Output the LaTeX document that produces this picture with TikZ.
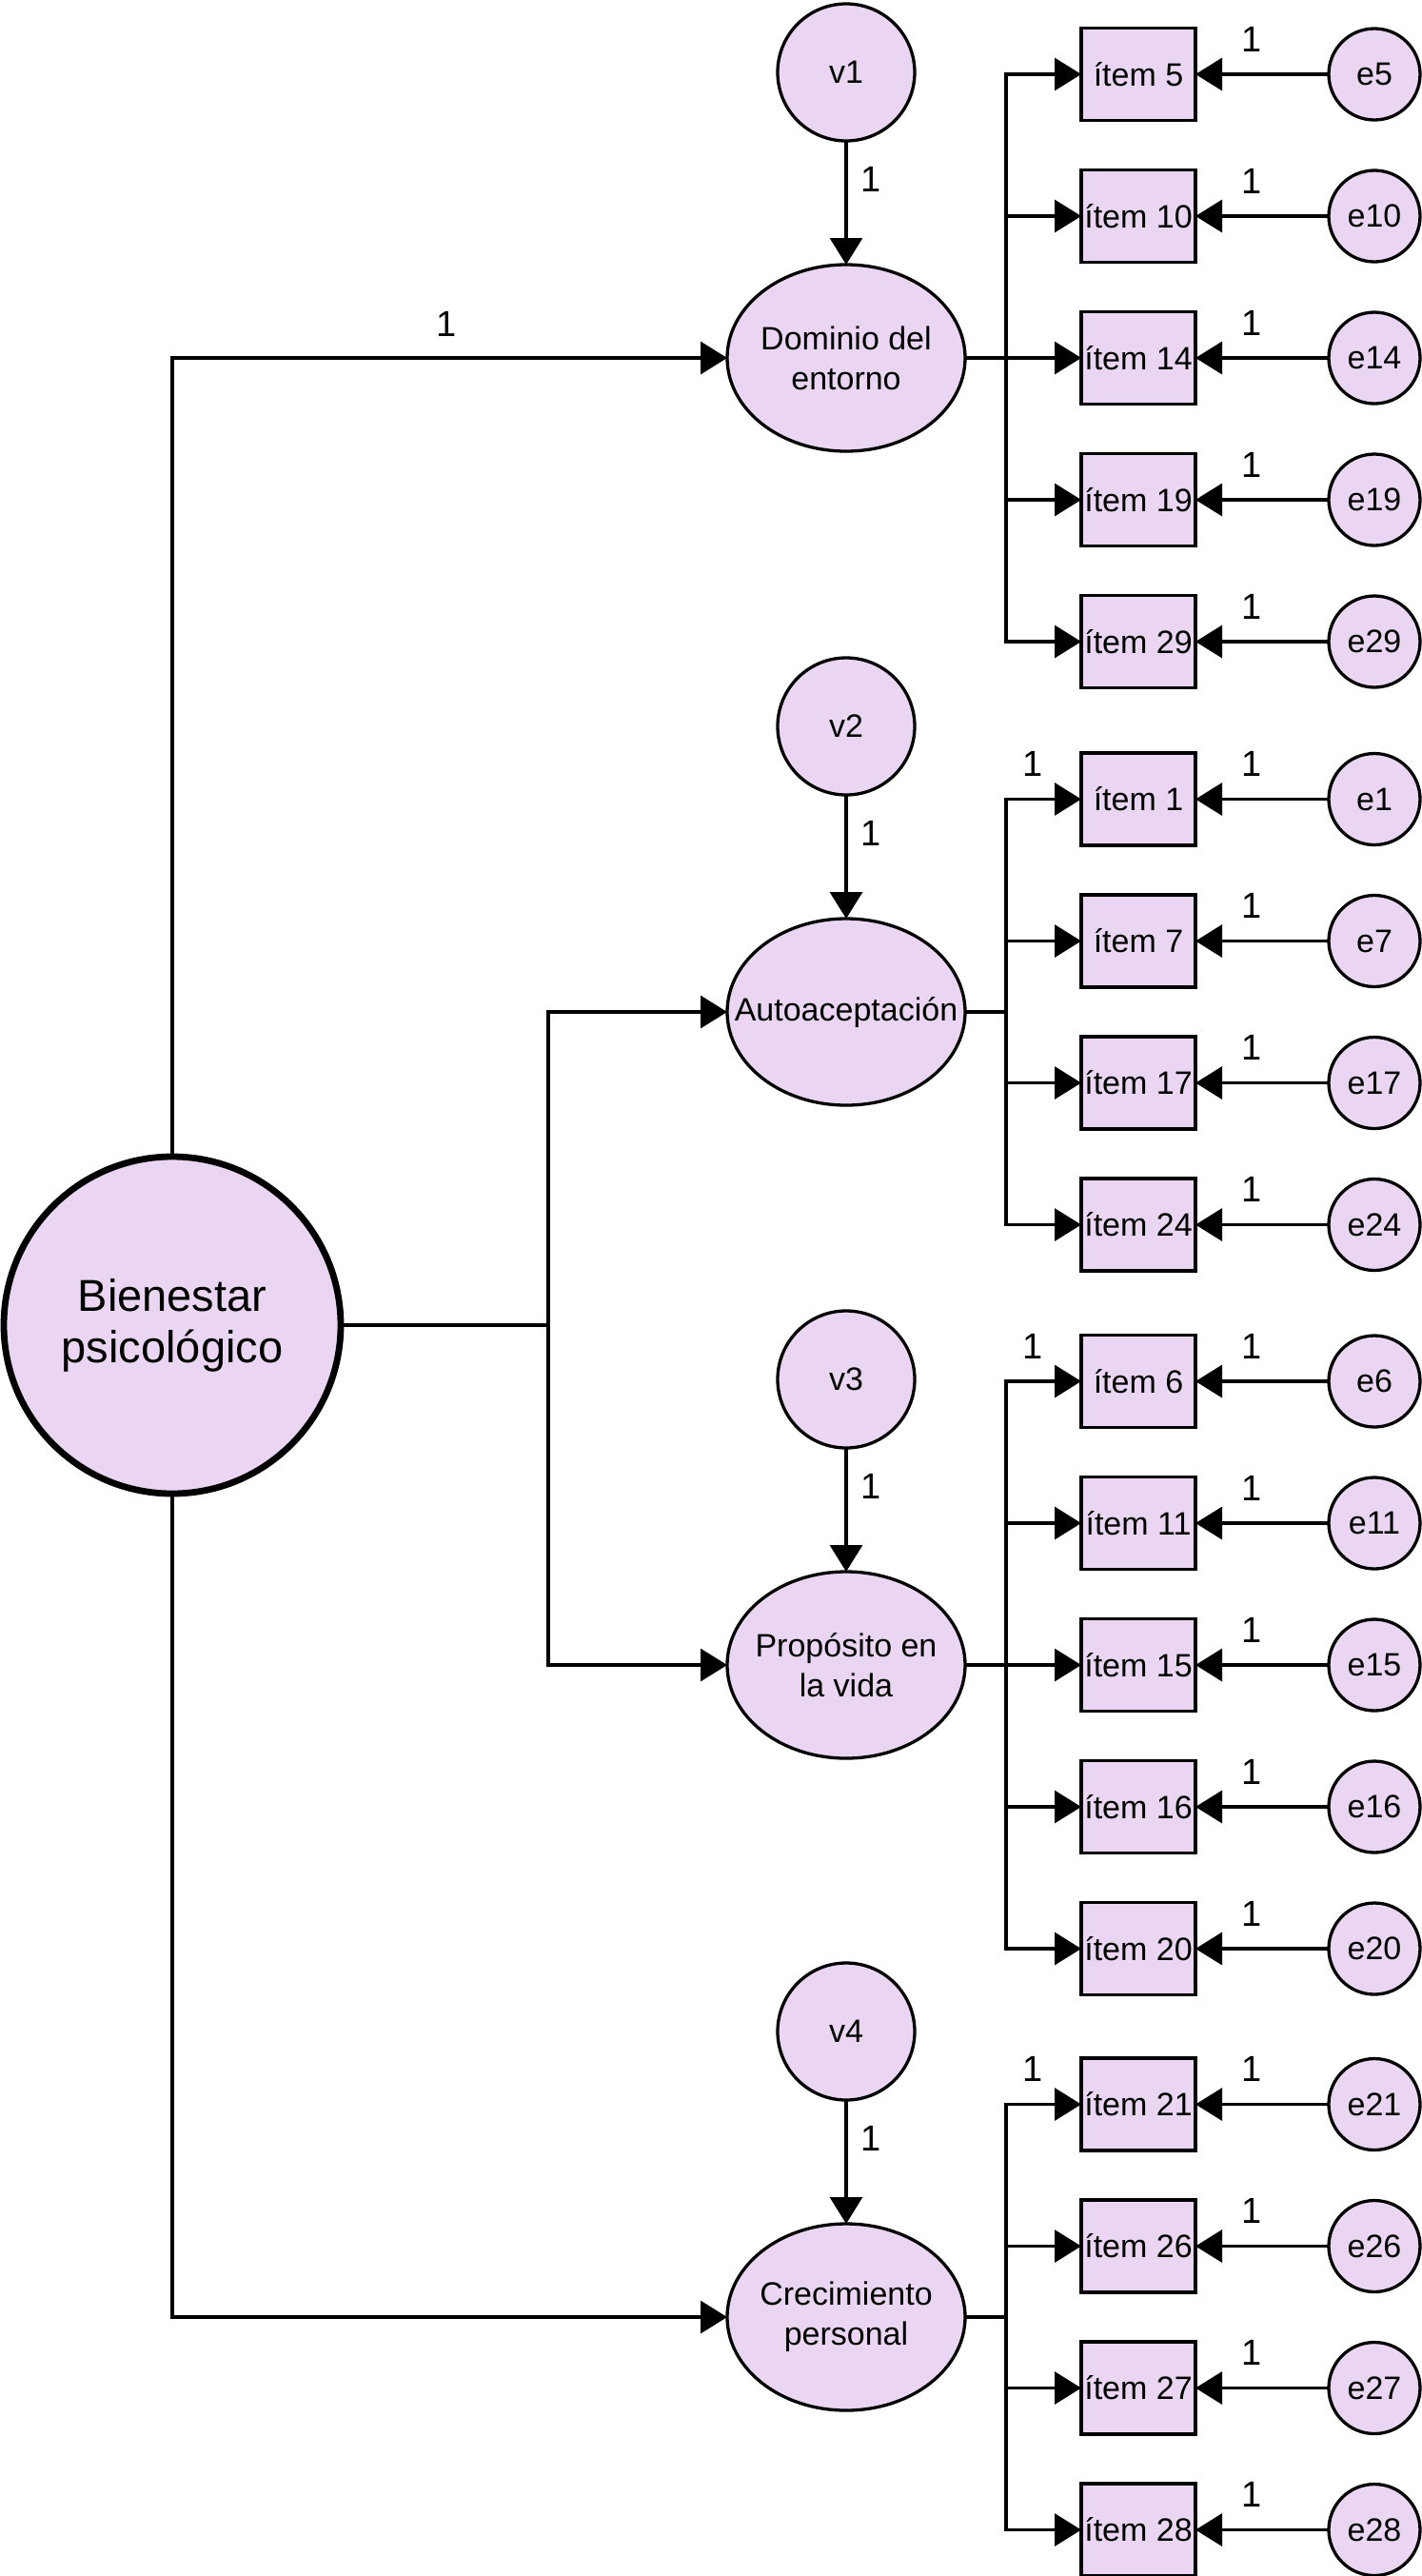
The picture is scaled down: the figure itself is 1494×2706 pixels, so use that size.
\documentclass[tikz,border=0pt]{standalone}
\usepackage{fontspec}
\setmainfont{Liberation Sans}
\usetikzlibrary{arrows.meta,shapes.geometric}
\definecolor{lav}{HTML}{EAD6F3}
\begin{document}
\begin{tikzpicture}[x=0.5pt,y=-0.5pt,
  every node/.style={inner sep=0pt,outer sep=0pt},
  txt/.style={font=\fontsize{17}{21}\selectfont},
  latent/.style={draw,line width=1.65pt,fill=lav,ellipse,minimum width=125pt,minimum height=98pt},
  dist/.style={draw,line width=1.65pt,fill=lav,circle,minimum size=72pt,txt},
  itembox/.style={draw,line width=1.65pt,fill=lav,rectangle,minimum width=60pt,minimum height=48.5pt,txt},
  err/.style={draw,line width=1.65pt,fill=lav,circle,minimum size=48pt,txt},
  conn/.style={line width=1.65pt,-{Triangle[length=14pt,width=17pt]}},
  plainline/.style={line width=1.65pt},
  one/.style={font=\fontsize{19}{21}\selectfont}
]
\useasboundingbox (0,0) rectangle (1494,2706);

% main latent
\node[draw,line width=3.4pt,fill=lav,circle,minimum size=177pt,align=center,
  font=\fontsize{23.5}{27}\selectfont] (bien) at (181,1392) {Bienestar\\psicológico};

% factors
\node[latent,label={[txt,align=center]center:Dominio del\\entorno}] (dom) at (889,376) {};
\node[latent,label={[txt,align=center]center:Autoaceptación}] (aut) at (889,1063) {};
\node[latent,label={[txt,align=center]center:Propósito en\\la vida}] (pro) at (889,1749) {};
\node[latent,label={[txt,align=center]center:Crecimiento\\personal}] (cre) at (889,2434) {};

% disturbances
\node[dist] (v1) at (889,76) {v1};
\node[dist] (v2) at (889,763) {v2};
\node[dist] (v3) at (889,1449) {v3};
\node[dist] (v4) at (889,2134) {v4};
\draw[conn] (v1) -- (dom);
\draw[conn] (v2) -- (aut);
\draw[conn] (v3) -- (pro);
\draw[conn] (v4) -- (cre);
\node[one] (lv1) at (915,188) {1};
\node[one] (lv2) at (915,875) {1};
\node[one] (lv3) at (915,1561) {1};
\node[one] (lv4) at (915,2246) {1};

% second-order paths
\draw[conn] (bien.north) |- (dom.west);
\node[one] (ltop) at (469,340) {1};
\draw[conn] (bien.south) |- (cre.west);
\coordinate (jb) at (576,1392);
\draw[plainline] (bien.east) -- (jb);
\draw[conn] (jb) |- (aut.west);
\draw[conn] (jb) |- (pro.west);

% buses
\coordinate (b1) at (1057,376);
\coordinate (b2) at (1057,1063);
\coordinate (b3) at (1057,1749);
\coordinate (b4) at (1057,2434);
\draw[plainline] (dom.east) -- (b1);
\draw[plainline] (aut.east) -- (b2);
\draw[plainline] (pro.east) -- (b3);
\draw[plainline] (cre.east) -- (b4);

% items
\foreach \n/\y/\b in {5/78/b1,10/227/b1,14/376/b1,19/525/b1,29/674/b1,
  1/839.5/b2,7/988.5/b2,17/1137.5/b2,24/1286.5/b2,
  6/1451/b3,11/1600/b3,15/1749/b3,16/1898/b3,20/2047/b3,
  21/2210.5/b4,26/2359.5/b4,27/2508.5/b4,28/2657.5/b4}{
  \node[itembox] (i\n) at (1196,\y) {ítem \n};
  \node[err] (e\n) at (1444,\y) {e\n};
  \draw[conn] (e\n) -- (i\n);
  \draw[conn] (\b) |- (i\n.west);
  \node[one] (le\n) at (1315,\y-37) {1};
}
\node[one] (li1) at (1085,802.5) {1};
\node[one] (li6) at (1085,1414) {1};
\node[one] (li21) at (1085,2173.5) {1};
\end{tikzpicture}
\end{document}
